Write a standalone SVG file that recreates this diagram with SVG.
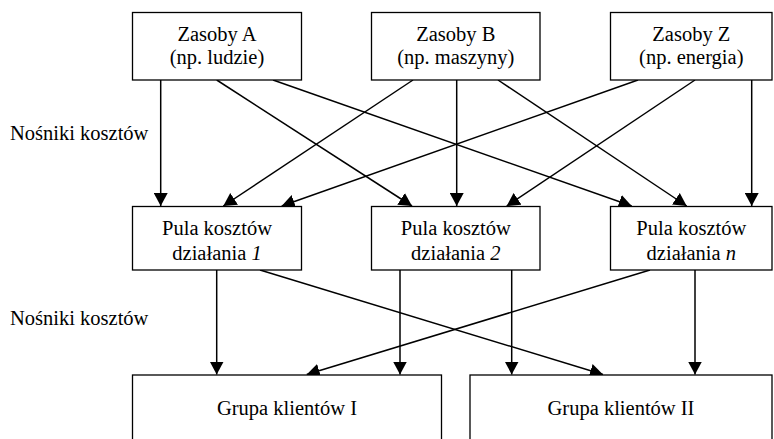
<svg xmlns="http://www.w3.org/2000/svg" width="774" height="439" viewBox="0 0 774 439">
<style>
.box{fill:#fff;stroke:#000;stroke-width:1.3}
.t{font-family:"Liberation Serif","Times New Roman",serif;font-size:20.5px;fill:#000;text-anchor:middle}
.l{font-family:"Liberation Serif","Times New Roman",serif;font-size:20.5px;fill:#000}
.c{stroke:#000;stroke-width:1.5;fill:none;marker-end:url(#ah)}
</style>
<defs>
<marker id="ah" markerUnits="userSpaceOnUse" markerWidth="13" markerHeight="14" viewBox="0 0 13 14" refX="13" refY="7" orient="auto">
<path d="M0,0 L13,7 L0,14 z" fill="#000"/>
</marker>
</defs>
<rect width="774" height="439" fill="#fff"/>
<g id="connectors">
<line class="c" x1="160.7" y1="80" x2="160.7" y2="206"/>
<line class="c" x1="216.7" y1="80" x2="412" y2="206"/>
<line class="c" x1="273" y1="80" x2="631.7" y2="206"/>
<line class="c" x1="413" y1="80" x2="223.3" y2="206"/>
<line class="c" x1="456.7" y1="80" x2="456.7" y2="206"/>
<line class="c" x1="498" y1="80" x2="686.7" y2="206"/>
<line class="c" x1="638" y1="80" x2="281.7" y2="206"/>
<line class="c" x1="695" y1="80" x2="506.7" y2="206"/>
<line class="c" x1="751.7" y1="80" x2="751.7" y2="206"/>
<line class="c" x1="216.7" y1="270" x2="216.7" y2="374.5"/>
<line class="c" x1="260" y1="270" x2="603" y2="374.5"/>
<line class="c" x1="400" y1="270" x2="400" y2="374.5"/>
<line class="c" x1="511.7" y1="270" x2="511.7" y2="374.5"/>
<line class="c" x1="650" y1="270" x2="306.7" y2="374.5"/>
<line class="c" x1="695" y1="270" x2="695" y2="374.5"/>
</g>
<g id="zasobyA">
<rect class="box" x="132.5" y="12.5" width="169" height="67.5"/>
<text class="t" x="217" y="41">Zasoby A</text>
<text class="t" x="217" y="64">(np. ludzie)</text>
</g>
<g id="zasobyB">
<rect class="box" x="371.5" y="12.5" width="168.5" height="67.5"/>
<text class="t" x="455.8" y="41">Zasoby B</text>
<text class="t" x="455.8" y="64">(np. maszyny)</text>
</g>
<g id="zasobyZ">
<rect class="box" x="610.5" y="12.5" width="161.5" height="67.5"/>
<text class="t" x="691.3" y="41">Zasoby Z</text>
<text class="t" x="691.3" y="64">(np. energia)</text>
</g>
<g id="pula1">
<rect class="box" x="132.5" y="206.5" width="169" height="63.5"/>
<text class="t" x="217" y="235">Pula kosztów</text>
<text class="t" x="217" y="260">działania <tspan font-style="italic">1</tspan></text>
</g>
<g id="pula2">
<rect class="box" x="371.5" y="206.5" width="168.5" height="63.5"/>
<text class="t" x="455.8" y="235">Pula kosztów</text>
<text class="t" x="455.8" y="260">działania <tspan font-style="italic">2</tspan></text>
</g>
<g id="pulan">
<rect class="box" x="610.5" y="206.5" width="161.5" height="63.5"/>
<text class="t" x="691.3" y="235">Pula kosztów</text>
<text class="t" x="691.3" y="260">działania <tspan font-style="italic">n</tspan></text>
</g>
<g id="grupa1">
<rect class="box" x="132.5" y="375" width="309" height="70"/>
<text class="t" x="287" y="415">Grupa klientów I</text>
</g>
<g id="grupa2">
<rect class="box" x="470" y="375" width="302" height="70"/>
<text class="t" x="621" y="415">Grupa klientów II</text>
</g>
<g id="labels">
<text class="l" x="10" y="140">Nośniki kosztów</text>
<text class="l" x="10" y="325">Nośniki kosztów</text>
</g>
</svg>
